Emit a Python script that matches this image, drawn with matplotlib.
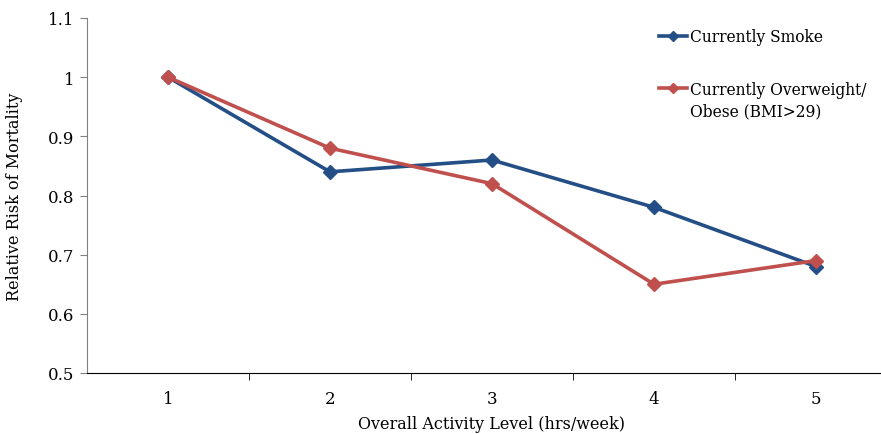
import matplotlib.pyplot as plt

plt.rcParams['font.family'] = ['DejaVu Serif']

levels = [1, 2, 3, 4, 5]
smoke = [1.00, 0.84, 0.86, 0.78, 0.68]
obese = [1.00, 0.88, 0.82, 0.65, 0.69]
labels = ['Currently Smoke', 'Currently Overweight/']
label_cont = 'Obese (BMI>29)'

blue = '#244E86'
red = '#C0504D'

fig = plt.figure(figsize=(8.81, 4.35), dpi=100)
# plot area runs past the right edge, as in the original export
ax = fig.add_axes([87 / 881, 1 - 374 / 435, 810 / 881, 355 / 435])

ax.plot(levels, smoke, color=blue, lw=2.6, marker='D', ms=7, label=labels[0])
ax.plot(levels, obese, color=red, lw=2.6, marker='D', ms=7, label=labels[1])

ax.set_xlim(0.5, 5.5)
ax.set_ylim(0.5, 1.1)
ax.set_yticks([0.5, 0.6, 0.7, 0.8, 0.9, 1.0, 1.1])
ax.set_yticklabels(['0.5', '0.6', '0.7', '0.8', '0.9', '1', '1.1'])
ax.set_xticks(levels)
ax.set_xticks([1.5, 2.5, 3.5, 4.5], minor=True)
ax.tick_params(axis='x', which='major', length=0, pad=12, labelsize=12)
ax.tick_params(axis='x', which='minor', length=5, color='black')
ax.tick_params(axis='y', length=5, color='#808080', labelsize=12, pad=4)

for s in ['top', 'right']:
    ax.spines[s].set_visible(False)
ax.spines['left'].set_color('#808080')
ax.spines['bottom'].set_color('black')

ax.set_xlabel('Overall Activity Level (hrs/week)', fontsize=11.5, labelpad=6)
ax.set_ylabel('Relative Risk of Mortality', fontsize=11.5, labelpad=18)

leg = ax.legend(loc='upper left', bbox_to_anchor=(659 / 881, 1 - 29 / 435),
                bbox_transform=fig.transFigure, frameon=False, fontsize=11.2,
                handlelength=1.8, handletextpad=0.2, labelspacing=2.3,
                borderpad=0, borderaxespad=0, markerscale=0.75)

# second line of the overweight label, hung under the legend entry
fig.canvas.draw()
bb = leg.get_texts()[1].get_window_extent()
fig.text(bb.x0, bb.y0 - 22, label_cont, fontsize=11.2, va='bottom', ha='left',
         transform=None)

fig.savefig('out.png', dpi=100)
